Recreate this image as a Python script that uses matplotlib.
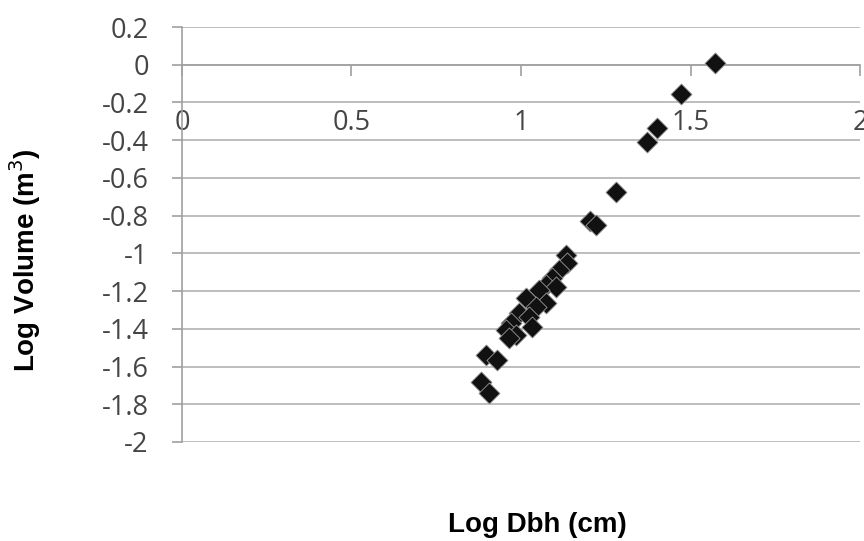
import numpy as np
import matplotlib.pyplot as plt

# Log Dbh (cm) vs Log Volume (m3)
log_dbh = [1.571, 1.471, 1.400, 1.371, 1.279, 1.203, 1.220, 1.132, 1.135,
           1.112, 1.091, 1.074, 1.103, 1.053, 1.015, 1.074, 1.044, 0.994,
           1.024, 0.971, 1.032, 0.956, 0.985, 0.965, 0.897, 0.929, 0.882,
           0.906]
log_vol = [0.010, -0.155, -0.335, -0.408, -0.673, -0.830, -0.850, -1.008,
           -1.050, -1.088, -1.130, -1.167, -1.178, -1.194, -1.236, -1.263,
           -1.284, -1.316, -1.337, -1.369, -1.390, -1.406, -1.432, -1.448,
           -1.538, -1.565, -1.682, -1.740]

y_ticks = np.round(np.arange(-2.0, 0.21, 0.2), 1)
x_ticks = [0, 0.5, 1, 1.5, 2]


def fmt(v):
    s = f"{v:g}"
    return "0" if s in ("-0", "0") else s


fig = plt.figure(figsize=(8.64, 5.41), dpi=100)
ax = fig.add_axes([0.2106, 0.183, 0.7848, 0.767])

ax.scatter(log_dbh, log_vol, marker="D", s=115, color="#111111",
           edgecolors="#9a9a9a", linewidths=0.6, zorder=3, clip_on=False)

ax.set_xlim(0, 2)
ax.set_ylim(-2, 0.2)
ax.set_yticks(y_ticks)
ax.set_yticklabels([fmt(v) for v in y_ticks])
ax.set_xticks(x_ticks)
ax.set_xticklabels([fmt(v) for v in x_ticks])

ax.yaxis.grid(True, color="#b8b8b8", linewidth=1.3)
ax.set_axisbelow(True)

for side in ("top", "right"):
    ax.spines[side].set_visible(False)
ax.spines["bottom"].set_position(("data", 0))
ax.spines["bottom"].set_color("#a0a0a0")
ax.spines["left"].set_color("#a0a0a0")
ax.spines["bottom"].set_linewidth(1.2)
ax.spines["left"].set_linewidth(1.2)

for lab in ax.get_xticklabels() + ax.get_yticklabels():
    lab.set_fontfamily(["Open Sans", "DejaVu Sans"])
    lab.set_fontsize(19.5)
ax.tick_params(axis="x", direction="out", length=8, width=1.2,
               color="#a0a0a0", labelcolor="#454545", pad=24)
ax.tick_params(axis="y", direction="out", length=7, width=1.2,
               color="#a0a0a0", labelcolor="#454545", pad=17)

fig.text(0.622, 0.030, "Log Dbh (cm)", ha="center", va="center",
         fontsize=20, fontweight="bold", family="Liberation Sans")
fig.text(0.029, 0.519, "Log Volume (m$^3$)", ha="center", va="center",
         rotation=90, fontsize=20, fontweight="bold", family="Liberation Sans")

fig.savefig("out.png", dpi=100)
